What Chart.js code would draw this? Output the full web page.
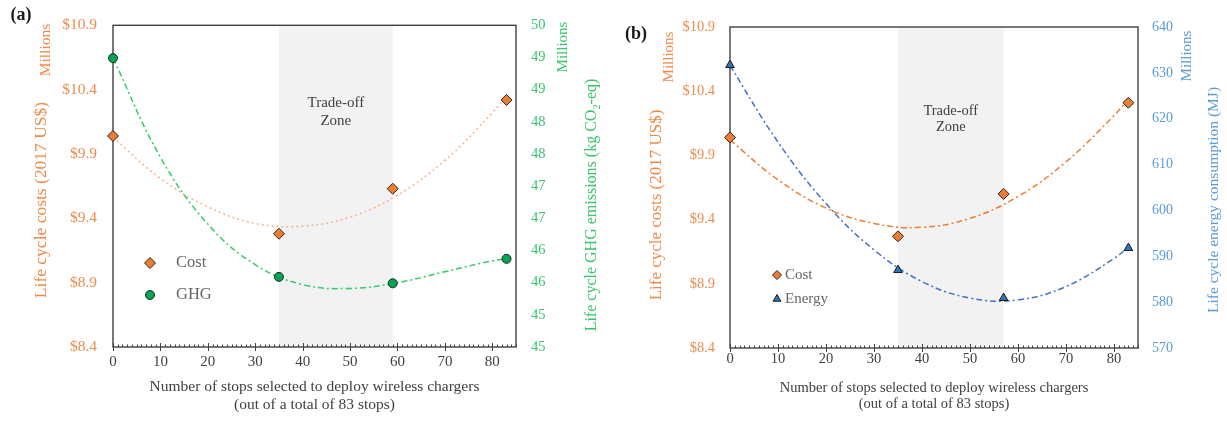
<!DOCTYPE html>
<html>
<head>
<meta charset="utf-8">
<script src="https://cdn.jsdelivr.net/npm/chart.js@4/dist/chart.umd.min.js"></script>
<style>
  html, body { margin: 0; padding: 0; background: #fff; }
  .panel { position: absolute; top: 0; }
</style>
</head>
<body>
<div class="panel" style="left:0"><canvas id="chartA" width="614" height="421"></canvas></div>
<div class="panel" style="left:614px"><canvas id="chartB" width="613" height="421"></canvas></div>
<script>
// (a) cost vs GHG
const stopsA = [0, 35, 59, 83];
const costA = [10.04, 9.28, 9.63, 10.32];
const ghgA = [49.49, 46.09, 45.99, 46.37];

// (b) cost vs energy
const stopsB = [0, 35, 57, 83];
const costB = [10.04, 9.27, 9.60, 10.31];
const energyB = [631.7, 587.0, 580.9, 591.8];

// trendlines
const trendX = [0, 10, 20, 30, 40, 50, 60, 70, 80, 83];
const costTrendA = [10.03, 9.71, 9.49, 9.36, 9.34, 9.41, 9.58, 9.85, 10.22, 10.35];
const ghgTrendA = [49.49, 47.95, 46.91, 46.28, 45.97, 45.91, 46.00, 46.17, 46.34, 46.37];
const costTrendB = [10.02, 9.71, 9.49, 9.37, 9.34, 9.41, 9.58, 9.85, 10.21, 10.34];
const energyTrendB = [631.6, 614.9, 601.5, 591.4, 584.5, 580.9, 580.5, 583.4, 589.5, 592.0];

// shaded zone (stops)
const zoneA = [35, 59];
const zoneB = [35, 57];

// ticks
const xTicks = [0, 10, 20, 30, 40, 50, 60, 70, 80];
const costTicks = [8.4, 8.9, 9.4, 9.9, 10.4, 10.9];
const ghgTicks = [45, 45.5, 46, 46.5, 47, 47.5, 48, 48.5, 49, 49.5, 50];
const ghgTickLabels = ['45', '45', '46', '46', '47', '47', '48', '48', '49', '49', '50'];
const energyTicks = [570, 580, 590, 600, 610, 620, 630, 640];

const SERIF = "'Liberation Serif', 'Times New Roman', serif";
const ORANGE = '#ED7D31';
const ORANGE_TXT = '#f08a4b';
const GREEN_TXT = '#3cc46e';
const BLUE_TXT = '#5b9bd5';

const pts = (xs, ys) => xs.map((x, i) => ({x, y: ys[i]}));

// rotated text, parts = [{t, sub}]
const rotText = (ctx, parts, cx, cy, size, color) => {
    ctx.save();
    ctx.translate(cx, cy);
    ctx.rotate(-Math.PI / 2);
    ctx.fillStyle = color;
    ctx.textBaseline = 'middle';
    const fontFor = p => `${p.sub ? size * 0.65 : size}px ${SERIF}`;
    let total = 0;
    parts.forEach(p => { ctx.font = fontFor(p); total += ctx.measureText(p.t).width; });
    let x = -total / 2;
    parts.forEach(p => {
        ctx.font = fontFor(p);
        ctx.fillText(p.t, x, p.sub ? size * 0.3 : 0);
        x += ctx.measureText(p.t).width;
    });
    ctx.restore();
};

const decor = {
    id: 'decor',
    beforeDatasetsDraw(chart, args, o) {
        const {ctx, chartArea: a} = chart;
        const x = chart.scales.x;
        const z0 = x.getPixelForValue(o.zone[0]);
        const z1 = x.getPixelForValue(o.zone[1]);
        ctx.save();
        ctx.fillStyle = '#f2f2f2';
        ctx.fillRect(z0, a.top, z1 - z0, a.bottom - a.top);

        ctx.fillStyle = '#404040';
        ctx.font = `${o.zoneSize}px ${SERIF}`;
        ctx.textAlign = 'center';
        ctx.textBaseline = 'middle';
        ctx.fillText('Trade-off', (z0 + z1) / 2, o.zoneY[0]);
        ctx.fillText('Zone', (z0 + z1) / 2, o.zoneY[1]);

        ctx.strokeStyle = '#404040';
        ctx.lineWidth = 1.4;
        ctx.strokeRect(a.left, a.top, a.right - a.left, a.bottom - a.top);

        // x axis tick marks
        ctx.lineWidth = 1;
        ctx.beginPath();
        for (let v = x.min; v <= x.max; v++) {
            const px = Math.round(x.getPixelForValue(v)) + 0.5;
            const major = v % 10 === 0;
            ctx.moveTo(px, a.bottom - (major ? 4 : 2.5));
            ctx.lineTo(px, a.bottom + (major ? 4 : 0));
        }
        ctx.stroke();
        ctx.restore();
    },
    afterDraw(chart, args, o) {
        const {ctx} = chart;
        ctx.save();
        o.titles.forEach(t => rotText(ctx, t.parts, t.x, t.y, t.size, t.color));

        ctx.fillStyle = '#404040';
        ctx.textAlign = 'center';
        ctx.textBaseline = 'middle';
        ctx.font = `${o.xTitle.size}px ${SERIF}`;
        o.xTitle.lines.forEach((l, i) => ctx.fillText(l, o.xTitle.x, o.xTitle.y[i]));

        ctx.fillStyle = '#1a1a1a';
        ctx.font = `bold 18px ${SERIF}`;
        ctx.fillText(o.letter.text, o.letter.x, o.letter.y);

        // legend
        ctx.textAlign = 'left';
        ctx.font = `${o.legend.size}px ${SERIF}`;
        o.legend.items.forEach(it => {
            const ds = chart.data.datasets[it.ds];
            ctx.fillStyle = ds.pointBackgroundColor;
            ctx.strokeStyle = ds.pointBorderColor;
            ctx.lineWidth = ds.pointBorderWidth;
            Chart.helpers.drawPoint(ctx, {
                pointStyle: ds.pointStyle, radius: it.r, rotation: 0, borderWidth: ds.pointBorderWidth
            }, o.legend.markerX, it.y);
            ctx.fillStyle = '#666666';
            ctx.fillText(ds.label, o.legend.textX, it.y);
        });
        ctx.restore();
    }
};

const makeChart = (id, cfg) => new Chart(document.getElementById(id), {
    type: 'line',
    data: {datasets: cfg.datasets},
    plugins: [decor],
    options: {
        responsive: false,
        animation: false,
        layout: {padding: {top: cfg.top, left: 0, right: 0, bottom: 0}},
        plugins: {
            legend: {display: false},
            tooltip: {enabled: false},
            decor: cfg.decor
        },
        scales: {
            x: {
                type: 'linear', min: 0, max: 85,
                afterBuildTicks: s => { s.ticks = xTicks.map(v => ({value: v})); },
                afterFit: s => { s.height = cfg.xHeight; },
                grid: {display: false, drawTicks: false},
                border: {display: false},
                ticks: {padding: cfg.xPad, color: '#404040', font: {family: SERIF, size: cfg.xSize}, maxRotation: 0}
            },
            y: {
                position: 'left', min: 8.4, max: 10.9,
                afterBuildTicks: s => { s.ticks = costTicks.map(v => ({value: v})); },
                afterFit: s => { s.width = cfg.leftW; },
                grid: {display: false, drawTicks: false},
                border: {display: false},
                ticks: {
                    padding: cfg.leftPad, color: ORANGE_TXT,
                    font: {family: SERIF, size: cfg.leftSize},
                    callback: v => '$' + v.toFixed(1)
                }
            },
            y2: {
                position: 'right', min: cfg.right.min, max: cfg.right.max,
                afterBuildTicks: s => { s.ticks = cfg.right.ticks.map(v => ({value: v})); },
                afterFit: s => { s.width = cfg.rightW; },
                grid: {display: false, drawTicks: false},
                border: {display: false},
                ticks: {
                    padding: cfg.rightPad, color: cfg.right.color,
                    font: {family: SERIF, size: cfg.rightSize},
                    callback: cfg.right.callback
                }
            }
        }
    }
});

const costPoints = (xs, ys) => ({
    label: 'Cost', data: pts(xs, ys), yAxisID: 'y', showLine: false, clip: false, order: 1,
    pointStyle: 'rectRot', pointRadius: 5.5,
    pointBackgroundColor: ORANGE, pointBorderColor: '#262626', pointBorderWidth: 1
});

const trend = (ys, axis, color, dash) => ({
    label: 'trend', data: pts(trendX, ys), yAxisID: axis, order: 2,
    borderColor: color, borderWidth: 1.5, borderDash: dash,
    pointRadius: 0, tension: 0.4, fill: false
});

makeChart('chartA', {
    top: 20, xHeight: 74, leftW: 113, rightW: 98,
    xPad: 6, xSize: 15, leftPad: 16, leftSize: 15.5, rightPad: 15, rightSize: 14.5,
    right: {
        min: 45, max: 50, ticks: ghgTicks, color: GREEN_TXT,
        callback: (v, i) => ghgTickLabels[i]
    },
    datasets: [
        costPoints(stopsA, costA),
        {
            label: 'GHG', data: pts(stopsA, ghgA), yAxisID: 'y2', showLine: false, clip: false, order: 1,
            pointStyle: 'circle', pointRadius: 4.5,
            pointBackgroundColor: '#00A651', pointBorderColor: '#262626', pointBorderWidth: 1
        },
        trend(costTrendA, 'y', '#f6b48a', [2, 3]),
        trend(ghgTrendA, 'y2', '#33cc66', [6, 3, 2, 3])
    ],
    decor: {
        zone: zoneA, zoneY: [103, 121], zoneSize: 15,
        titles: [
            {parts: [{t: 'Life cycle costs (2017 US$)'}], x: 41, y: 200, size: 17.5, color: ORANGE_TXT},
            {parts: [{t: 'Millions'}], x: 46, y: 50, size: 15.5, color: ORANGE_TXT},
            {parts: [{t: 'Life cycle GHG emissions (kg CO'}, {t: '2', sub: true}, {t: '-eq)'}], x: 592, y: 205, size: 16, color: GREEN_TXT},
            {parts: [{t: 'Millions'}], x: 563, y: 47, size: 15, color: GREEN_TXT}
        ],
        xTitle: {
            lines: ['Number of stops selected to deploy wireless chargers', '(out of a total of 83 stops)'],
            x: 314.5, y: [387, 405], size: 15.5
        },
        letter: {text: '(a)', x: 21, y: 15},
        legend: {
            markerX: 150, textX: 176, size: 16.5,
            items: [{ds: 0, y: 263, r: 5.5}, {ds: 1, y: 295, r: 4.5}]
        }
    }
});

makeChart('chartB', {
    top: 27, xHeight: 73, leftW: 116, rightW: 89,
    xPad: 2, xSize: 14.5, leftPad: 15, leftSize: 14.5, rightPad: 14, rightSize: 14,
    right: {
        min: 570, max: 640, ticks: energyTicks, color: BLUE_TXT,
        callback: v => v
    },
    datasets: [
        costPoints(stopsB, costB),
        {
            label: 'Energy', data: pts(stopsB, energyB), yAxisID: 'y2', showLine: false, clip: false, order: 1,
            pointStyle: 'triangle', pointRadius: 5,
            pointBackgroundColor: '#2E75B6', pointBorderColor: '#1a1a1a', pointBorderWidth: 1
        },
        trend(costTrendB, 'y', ORANGE, [6, 3, 2, 3]),
        trend(energyTrendB, 'y2', '#4472C4', [6, 3, 2, 3])
    ],
    decor: {
        zone: zoneB, zoneY: [111, 127], zoneSize: 14.5,
        titles: [
            {parts: [{t: 'Life cycle costs (2017 US$)'}], x: 43, y: 205, size: 17, color: ORANGE_TXT},
            {parts: [{t: 'Millions'}], x: 55, y: 57, size: 15, color: ORANGE_TXT},
            {parts: [{t: 'Life cycle energy consumption (MJ)'}], x: 600, y: 200, size: 15.5, color: BLUE_TXT},
            {parts: [{t: 'Millions'}], x: 573, y: 56, size: 15, color: BLUE_TXT}
        ],
        xTitle: {
            lines: ['Number of stops selected to deploy wireless chargers', '(out of a total of 83 stops)'],
            x: 320, y: [388, 404], size: 14.5
        },
        letter: {text: '(b)', x: 22, y: 34},
        legend: {
            markerX: 163, textX: 171, size: 15,
            items: [{ds: 0, y: 275, r: 4.5}, {ds: 1, y: 299, r: 4.5}]
        }
    }
});
</script>
</body>
</html>
